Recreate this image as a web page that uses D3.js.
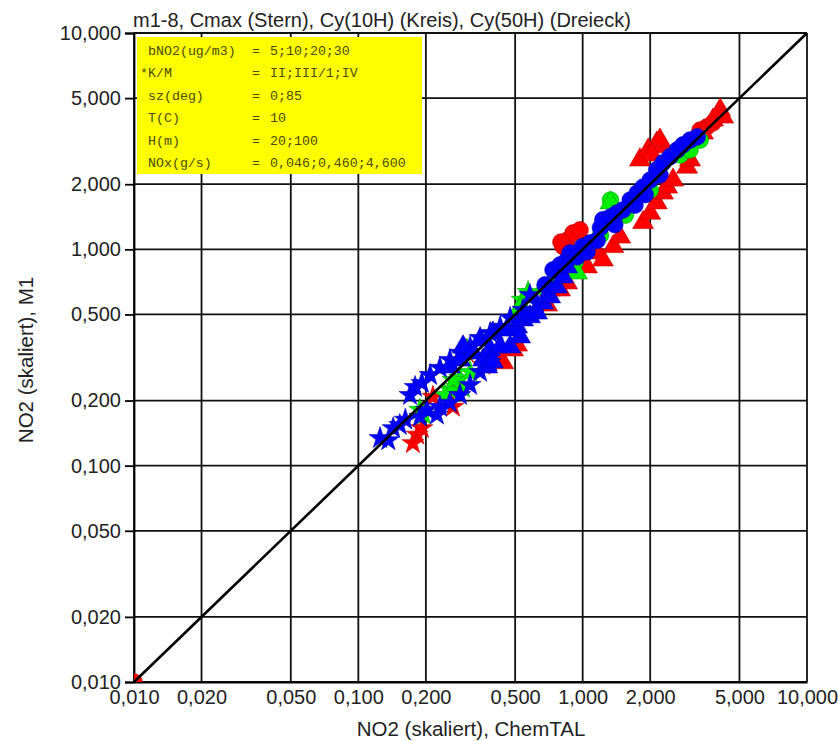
<!DOCTYPE html>
<html>
<head>
<meta charset="utf-8">
<script src="https://cdn.jsdelivr.net/npm/d3@7"></script>
<style>
  html, body { margin: 0; padding: 0; background: #fff; }
  svg { display: block; }
  text { font-family: "Liberation Sans", Arial, sans-serif; fill: #222; }
  .mono { font-family: "Liberation Mono", "Courier New", monospace; fill: #4a4a00; font-size: 13.3px; }
</style>
</head>
<body>
<svg id="chart" width="838" height="741"></svg>
<script>
// Tick positions on both log axes
const tickValues = [0.01, 0.02, 0.05, 0.1, 0.2, 0.5, 1, 2, 5, 10];

// Info box rows: parameter name and value
const infoKeys = [" bNO2(ug/m3)", "*K/M", " sz(deg)", " T(C)", " H(m)", " NOx(g/s)"];
const infoValues = ["5;10;20;30", "II;III/1;IV", "0;85", "10", "20;100", "0,046;0,460;4,600"];

// Cmax (stars): [ChemTAL, M1]
const starRed = [[0.175,0.127],[0.183,0.139],[0.192,0.149],[0.215,0.208],[0.264,0.187],[0.360,0.292],[0.302,0.336]];
const starGreen = [[0.275,0.231],[0.293,0.229],[0.256,0.224],[0.284,0.254],[0.264,0.249],[0.305,0.343],[0.188,0.181],[0.315,0.271],[0.243,0.212],[0.537,0.584],[0.571,0.635],[0.196,0.172]];
const starBlue = [[0.125,0.134],[0.136,0.131],[0.143,0.149],[0.162,0.163],[0.170,0.212],[0.179,0.231],[0.192,0.241],[0.209,0.262],[0.231,0.283],[0.256,0.308],[0.284,0.332],[0.315,0.354],[0.349,0.389],[0.387,0.410],[0.429,0.438],[0.475,0.482],[0.542,0.525],[0.626,0.565],[0.582,0.615],[0.153,0.154],[0.188,0.168],[0.202,0.181],[0.224,0.172],[0.231,0.187],[0.256,0.195],[0.284,0.212],[0.315,0.236],[0.349,0.271],[0.387,0.302]];

// Cy(10H) (circles)
const circleRed = [[0.01,0.01],[0.817,1.03],[0.852,1.10],[0.906,1.19],[0.973,1.23],[0.80,1.08],[3.34,3.56],[3.58,3.68],[3.81,3.84]];
const circleGreen = [[0.754,0.722],[0.925,0.875],[1.20,1.16],[1.55,1.44],[2.00,1.88],[2.72,2.73],[3.34,3.20],[3.01,2.88],[1.33,1.69],[0.68,0.66]];
const circleBlue = [[0.680,0.685],[0.738,0.803],[0.793,0.847],[0.852,0.893],[0.879,0.962],[0.944,0.923],[1.00,1.03],[1.045,0.973],[1.08,1.07],[1.16,1.10],[1.20,1.26],[1.23,1.37],[1.33,1.41],[1.39,1.30],[1.42,1.47],[1.51,1.52],[1.63,1.69],[1.71,1.60],[1.75,1.82],[1.86,1.94],[1.90,1.79],[2.00,2.09],[2.14,2.33],[2.21,2.21],[2.28,2.51],[2.45,2.68],[2.64,2.88],[2.80,3.04],[3.01,3.20],[3.24,3.31]];

// Cy(50H) (triangles)
const triRed = [[0.442,0.299],[0.489,0.343],[0.415,0.318],[0.510,0.361],[0.694,0.553],[0.716,0.649],[0.817,0.708],[0.793,0.649],[0.852,0.700],[1.045,0.830],[1.16,0.962],[1.23,0.893],[1.37,1.03],[1.47,1.14],[1.86,1.33],[2.00,1.47],[2.14,1.64],[2.28,1.82],[2.38,1.94],[1.94,1.82],[2.53,2.09],[2.92,2.40],[3.01,2.59],[3.44,3.45],[3.81,3.96],[4.10,4.41],[4.23,4.09],[1.80,2.59],[1.96,2.88],[2.14,3.10],[2.28,2.98],[2.21,3.20],[2.04,2.73]];
const triGreen = [[0.565,0.603],[0.944,0.778],[1.33,1.64],[0.526,0.525],[0.510,0.508]];
const triBlue = [[0.256,0.286],[0.284,0.308],[0.293,0.354],[0.325,0.332],[0.349,0.381],[0.360,0.308],[0.387,0.343],[0.398,0.410],[0.429,0.354],[0.461,0.424],[0.475,0.354],[0.510,0.438],[0.526,0.394],[0.542,0.472],[0.582,0.488],[0.626,0.508],[0.666,0.565],[0.716,0.603],[0.769,0.670],[0.817,0.746],[0.852,0.830],[0.375,0.286],[0.398,0.302]];

const svg = d3.select("#chart");
const plotLeft = 134, plotRight = 807, plotTop = 33, plotBottom = 682;

const x = d3.scaleLog().domain([0.01, 10]).range([plotLeft, plotRight]);
const y = d3.scaleLog().domain([0.01, 10]).range([plotBottom, plotTop]);

const locale = d3.formatLocale({ decimal: ",", thousands: ".", grouping: [3], currency: ["", ""] });
const fmt = locale.format(".3f");

// Grid
const grid = svg.append("g").attr("stroke", "#111").attr("stroke-width", 1.8);
grid.append("g").selectAll("line").data(tickValues).join("line")
  .attr("x1", d => x(d)).attr("x2", d => x(d)).attr("y1", plotTop).attr("y2", plotBottom);
grid.append("g").selectAll("line").data(tickValues).join("line")
  .attr("y1", d => y(d)).attr("y2", d => y(d)).attr("x1", plotLeft).attr("x2", plotRight);

// Axes
const yAxis = d3.axisLeft(y).tickValues(tickValues).tickFormat(fmt).tickSize(9).tickPadding(4);
const xAxis = d3.axisBottom(x).tickValues(tickValues).tickFormat(fmt).tickSize(0).tickPadding(8);
const gy = svg.append("g").attr("transform", `translate(${plotLeft},0)`).call(yAxis);
const gx = svg.append("g").attr("transform", `translate(0,${plotBottom})`).call(xAxis);
[gx, gy].forEach(g => {
  g.select(".domain").attr("stroke", "#000").attr("stroke-width", 1.8);
  g.selectAll(".tick line").attr("stroke", "#000").attr("stroke-width", 1.8);
  g.selectAll(".tick text").attr("font-size", 20).attr("fill", "#222")
    .attr("font-family", "Liberation Sans, Arial, sans-serif");
});

// Info box
const box = svg.append("g");
box.append("rect").attr("x", 137).attr("y", 37).attr("width", 285).attr("height", 137).attr("fill", "#ffff00");
infoKeys.forEach((k, i) => {
  const by = 55 + i * 22.4;
  box.append("text").attr("class", "mono").attr("x", 140).attr("y", by).attr("xml:space", "preserve").text(k);
  box.append("text").attr("class", "mono").attr("x", 252).attr("y", by).text("=");
  box.append("text").attr("class", "mono").attr("x", 270).attr("y", by).text(infoValues[i]);
});

// Markers
svg.append("clipPath").attr("id", "plotClip").append("rect")
  .attr("x", plotLeft).attr("y", plotTop).attr("width", plotRight - plotLeft).attr("height", plotBottom - plotTop);
const marks = svg.append("g").attr("clip-path", "url(#plotClip)");

const star = d3.symbol().type(d3.symbolStar).size(150);
const circle = d3.symbol().type(d3.symbolCircle).size(220);
const tri = d3.symbol().type(d3.symbolTriangle).size(190);

const colors = { red: ["#ff0000", "#c00000"], green: ["#00ee00", "#00a800"], blue: ["#0000ff", "#0000b0"] };
const series = [
  [starRed, star, "red"], [circleRed, circle, "red"], [triRed, tri, "red"],
  [starGreen, star, "green"], [circleGreen, circle, "green"], [triGreen, tri, "green"],
  [starBlue, star, "blue"], [circleBlue, circle, "blue"], [triBlue, tri, "blue"]
];
series.forEach(([data, sym, c]) => {
  marks.append("g").selectAll("path").data(data).join("path")
    .attr("d", sym)
    .attr("transform", d => `translate(${x(d[0])},${y(d[1])})`)
    .attr("fill", colors[c][0])
    .attr("stroke", colors[c][1])
    .attr("stroke-width", 0.6);
});

// 1:1 line
svg.append("line")
  .attr("x1", x(0.01)).attr("y1", y(0.01)).attr("x2", x(10)).attr("y2", y(10))
  .attr("stroke", "#000").attr("stroke-width", 2.6);

// Titles
svg.append("text").attr("x", 133).attr("y", 27).attr("font-size", 20)
  .text("m1-8, Cmax (Stern), Cy(10H) (Kreis), Cy(50H) (Dreieck)");
svg.append("text").attr("x", 471).attr("y", 736).attr("text-anchor", "middle").attr("font-size", 20.5)
  .text("NO2 (skaliert), ChemTAL");
svg.append("text").attr("transform", "translate(33,360) rotate(-90)").attr("text-anchor", "middle").attr("font-size", 20.5)
  .text("NO2 (skaliert), M1");
</script>
</body>
</html>
